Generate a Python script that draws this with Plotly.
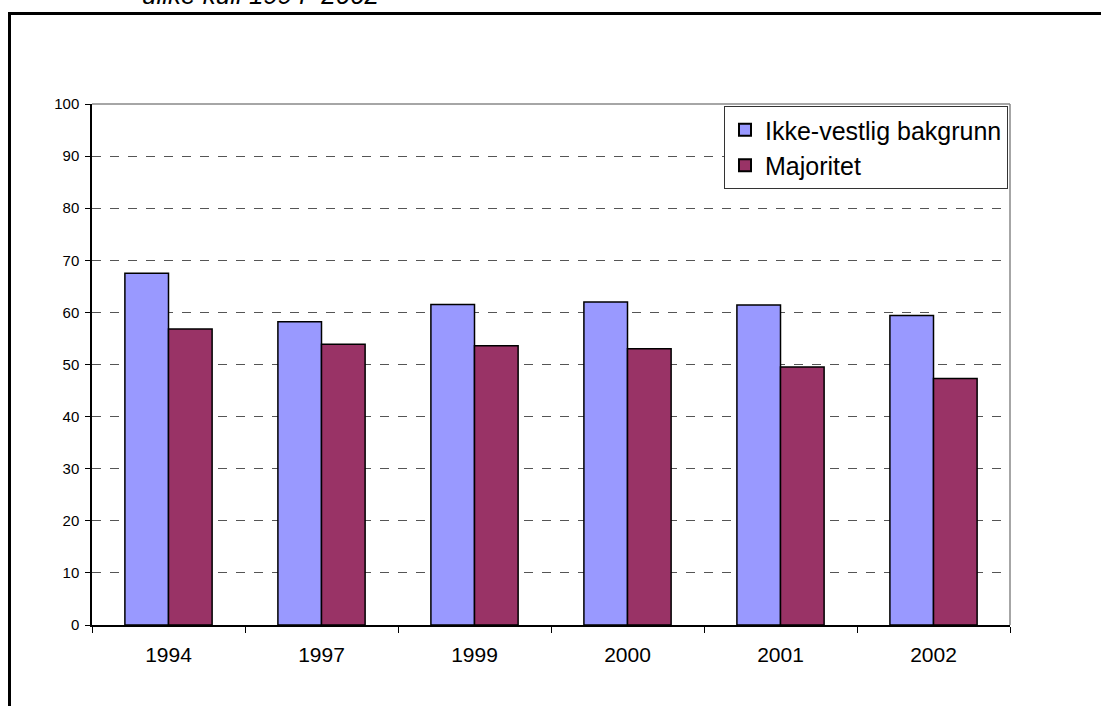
import plotly.graph_objects as go

years = ["1994", "1997", "1999", "2000", "2001", "2002"]
ikke_vestlig = [67.5, 58.2, 61.5, 62.0, 61.4, 59.4]
majoritet = [56.8, 53.9, 53.6, 53.0, 49.5, 47.3]
y_ticks = [0, 10, 20, 30, 40, 50, 60, 70, 80, 90, 100]

W, H = 1101, 706
L, R, T, B = 92, 91, 104, 81
pw, ph = W - L - R, H - T - B

def px(x):
    return (x - L) / pw

def py(y):
    return (H - B - y) / ph

fig = go.Figure()
fig.add_bar(x=years, y=ikke_vestlig, name="Ikke-vestlig bakgrunn",
            marker=dict(color="#9999FF", line=dict(color="black", width=1.5)))
fig.add_bar(x=years, y=majoritet, name="Majoritet",
            marker=dict(color="#993366", line=dict(color="black", width=1.5)))

fig.update_layout(
    width=W, height=H,
    margin=dict(l=L, r=R, t=T, b=B, pad=0),
    paper_bgcolor="white", plot_bgcolor="white",
    barmode="group", bargap=0.43, bargroupgap=0,
    font=dict(family="Arial, Liberation Sans, sans-serif", color="black"),
    showlegend=True,
    legend=dict(x=px(724), y=py(106), xanchor="left", yanchor="top",
                bordercolor="#333", borderwidth=1, bgcolor="white",
                font=dict(size=25), tracegroupgap=0, itemsizing="constant",
                itemwidth=30),
    xaxis=dict(type="category", showline=True, linecolor="black", linewidth=1.5,
               ticks="outside", ticklen=6, tickcolor="black", tickson="boundaries",
               tickfont=dict(size=21), ticklabelstandoff=10, showgrid=False),
    yaxis=dict(range=[0, 100], tickvals=y_ticks, showline=True, linecolor="black",
               linewidth=1.5, ticks="outside", ticklen=5, tickcolor="black",
               tickfont=dict(size=15), ticklabelstandoff=3,
               showgrid=True, gridcolor="#555",
               griddash="dash", gridwidth=1, zeroline=False),
    shapes=[
        dict(type="line", xref="paper", yref="paper", x0=0, x1=1, y0=1, y1=1,
             line=dict(color="#888", width=1.5)),
        dict(type="line", xref="paper", yref="paper", x0=1, x1=1, y0=0, y1=1,
             line=dict(color="#888", width=1.5)),
        dict(type="line", xref="paper", yref="paper",
             x0=px(9.5), x1=px(9.5), y0=py(712), y1=py(12),
             line=dict(color="black", width=3), layer="above"),
        dict(type="line", xref="paper", yref="paper",
             x0=px(8), x1=px(1110), y0=py(13.5), y1=py(13.5),
             line=dict(color="black", width=3), layer="above"),
    ],
    annotations=[
        dict(text="<i>ulike kull 1994–2002</i>", xref="paper", yref="paper",
             x=px(140), y=py(12.5), xanchor="left", yanchor="bottom",
             showarrow=False, font=dict(size=26, color="black")),
    ],
)

fig.write_html("out.html", config={"displayModeBar": False},
               post_script="document.body.style.margin='0px';")
